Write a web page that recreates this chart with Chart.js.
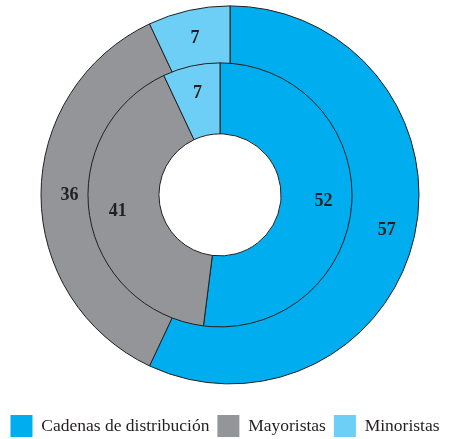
<!DOCTYPE html>
<html>
<head>
<meta charset="utf-8">
<script src="https://cdn.jsdelivr.net/npm/chart.js@4"></script>
<style>
  html, body { margin: 0; padding: 0; background: #fff; overflow: hidden; }
  /* el lienzo es algo más alto: el margen blanco bajo la leyenda queda recortado */
  #wrap { width: 450px; height: 439px; overflow: hidden; }
</style>
</head>
<body>
<div id="wrap"><canvas id="chart" width="450" height="447"></canvas></div>
<script>
const categories = ['Cadenas de distribución', 'Mayoristas', 'Minoristas'];
const outerValues = [57, 36, 7];   // anillo exterior
const innerValues = [52, 41, 7];   // anillo interior
const colors = ['#00aeef', '#939598', '#6dcff6'];

const ink = '#231f20';
// los dos anillos no son concéntricos: el exterior va 10px más a la derecha
const ringShift = [5, -5];
// posición radial de las cifras dentro de cada anillo (0 = borde interior, 1 = exterior)
const labelDepth = [0.5, 0.6];

// desplaza cada anillo y alarga el exterior hacia dentro para que no quede hueco
const shiftRings = {
    id: 'shiftRings',
    beforeDatasetDraw(chart, args) {
        chart.ctx.save();
        chart.ctx.translate(ringShift[args.index], 0);
        if (args.index === 0) {
            args.meta.data.forEach(arc => {
                arc._realInner = arc.innerRadius;
                arc.innerRadius = arc.innerRadius - 25;
            });
        }
    },
    afterDatasetDraw(chart, args) {
        if (args.index === 0) {
            args.meta.data.forEach(arc => {
                arc.innerRadius = arc._realInner;
            });
        }
        chart.ctx.restore();
    }
};

// números sobre cada sector
const sliceLabels = {
    id: 'sliceLabels',
    afterDatasetsDraw(chart) {
        const ctx = chart.ctx;
        ctx.save();
        ctx.font = 'bold 18px "Liberation Serif", serif';
        ctx.fillStyle = ink;
        ctx.textAlign = 'center';
        ctx.textBaseline = 'middle';
        chart.data.datasets.forEach((ds, di) => {
            const meta = chart.getDatasetMeta(di);
            meta.data.forEach((arc, i) => {
                const mid = (arc.startAngle + arc.endAngle) / 2;
                const r = arc.innerRadius + (arc.outerRadius - arc.innerRadius) * labelDepth[di];
                const x = arc.x + Math.cos(mid) * r + ringShift[di];
                const y = arc.y + Math.sin(mid) * r;
                ctx.fillText(String(ds.data[i]), x, y);
            });
        });
        ctx.restore();
    }
};

new Chart(document.getElementById('chart'), {
    type: 'doughnut',
    data: {
        labels: categories,
        datasets: [
            {
                data: outerValues,
                backgroundColor: colors,
                borderColor: ink,
                borderWidth: 1,
                weight: 57,
                order: 1
            },
            {
                data: innerValues,
                backgroundColor: colors,
                borderColor: ink,
                borderWidth: 1,
                weight: 71,
                order: 0
            }
        ]
    },
    options: {
        responsive: false,
        animation: false,
        radius: 189,
        cutout: '32.3%',
        layout: { padding: 0 },
        plugins: {
            tooltip: { enabled: false },
            legend: {
                position: 'bottom',
                // título vacío: sólo aporta el hueco entre el gráfico y la leyenda
                title: { display: true, text: '', font: { size: 1 }, padding: { top: 16, bottom: 0 } },
                labels: {
                    boxWidth: 22,
                    boxHeight: 22,
                    padding: 8,
                    color: ink,
                    font: { family: '"Liberation Serif", serif', size: 17.5 },
                    generateLabels: () => categories.map((c, i) => ({
                        text: c,
                        fillStyle: colors[i],
                        strokeStyle: colors[i],
                        lineWidth: 0,
                        fontColor: ink,
                        hidden: false,
                        index: i
                    }))
                }
            }
        }
    },
    plugins: [shiftRings, sliceLabels]
});
</script>
</body>
</html>
